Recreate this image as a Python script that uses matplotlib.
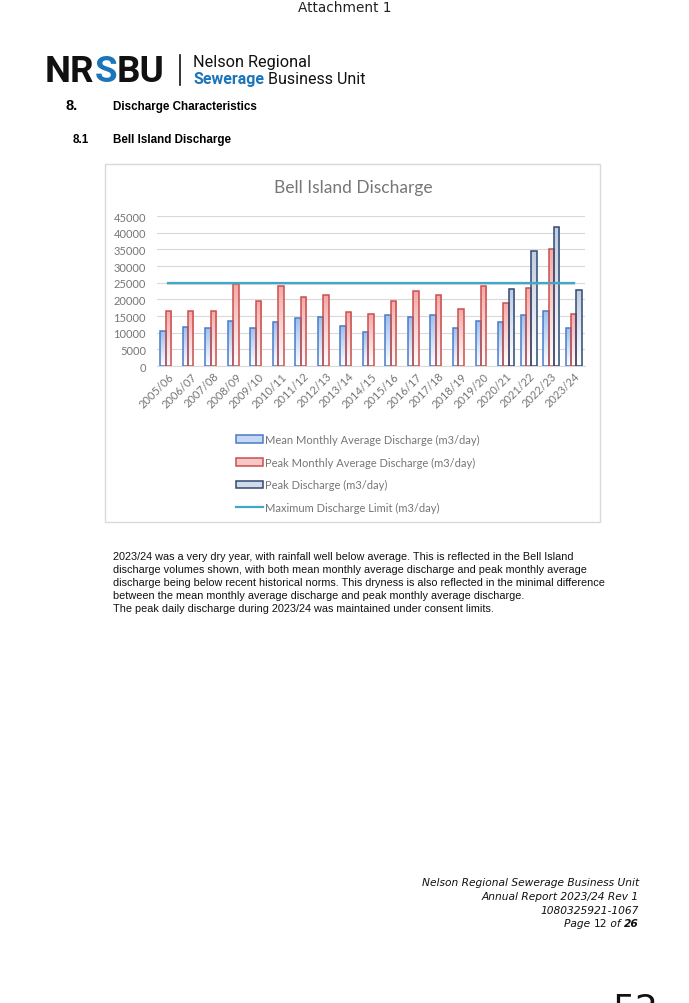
import numpy as np
import matplotlib
matplotlib.use("Agg")
import matplotlib.pyplot as plt
from matplotlib.patches import Rectangle
from matplotlib.colors import LinearSegmentedColormap

# data
years = ['2005/06', '2006/07', '2007/08', '2008/09', '2009/10', '2010/11', '2011/12',
         '2012/13', '2013/14', '2014/15', '2015/16', '2016/17', '2017/18', '2018/19',
         '2019/20', '2020/21', '2021/22', '2022/23', '2023/24']
mean_monthly = [10500, 11700, 11500, 13500, 11500, 13200, 14300, 14700, 11900, 10100,
                15300, 14700, 15400, 11300, 13500, 13200, 15300, 16500, 11500]
peak_monthly = [16400, 16400, 16600, 24600, 19600, 24100, 20600, 21300, 16200, 15600,
                19600, 22500, 21300, 17000, 23900, 19000, 23500, 35200, 15600]
peak_discharge = [np.nan] * 15 + [23100, 34600, 41700, 22900]
limit = [25000] * len(years)

W, H = 689, 1004
fig = plt.figure(figsize=(W / 100, H / 100), dpi=100)
r = fig.canvas.get_renderer()


def fx(x):
    return x / W


def fy(y):
    return 1 - y / H


def chain(x0, y, parts, **common):
    # left-to-right run of texts with different styles
    for txt, kw in parts:
        t = fig.text(fx(x0), fy(y), txt, ha='left', **common, **kw)
        x0 += t.get_window_extent(renderer=r).width


gray = '#767676'
chart_font = ['Lato', 'DejaVu Sans']

# page header
fig.text(fx(345), fy(8), 'Attachment 1', ha='center', va='center', fontsize=9.8,
         family='DejaVu Sans', color='#222222')

# logo
chain(45, 82, [('NR', dict(color='#111111')), ('S', dict(color='#1B75BB')),
               ('BU', dict(color='#111111'))],
      va='baseline', fontsize=26.5, family='Roboto', weight='bold')
fig.lines.append(plt.Line2D([fx(180), fx(180)], [fy(56), fy(86)], color='#111111',
                            lw=1.2, transform=fig.transFigure))
fig.text(fx(193), fy(67), 'Nelson Regional', ha='left', va='baseline', fontsize=11.7,
         family='Roboto', color='#111111')
chain(193, 84, [('Sewerage', dict(weight='bold', color='#1B75BB')),
                (' Business Unit', dict(color='#111111'))],
      va='baseline', fontsize=11.5, family='Roboto')

# section headings
fig.text(fx(65), fy(106), '8.', ha='left', va='center', fontsize=10.5,
         family='Liberation Sans', weight='bold')
fig.text(fx(113), fy(107), 'Discharge Characteristics', ha='left', va='center',
         fontsize=8.4, family='Liberation Sans', weight='bold')
fig.text(fx(73), fy(140), '8.1', ha='left', va='center', fontsize=8.4,
         family='Liberation Sans', weight='bold')
fig.text(fx(113), fy(140), 'Bell Island Discharge', ha='left', va='center',
         fontsize=8.4, family='Liberation Sans', weight='bold')

# chart frame
fig.patches.append(Rectangle((fx(105), fy(523)), fx(600) - fx(105), fy(165) - fy(523),
                             transform=fig.transFigure, facecolor='white',
                             edgecolor='#D9D9D9', lw=1, zorder=-1))
fig.text(fx(353), fy(188), 'Bell Island Discharge', ha='center', va='center',
         fontsize=12.5, family=chart_font, color=gray)

ax = fig.add_axes([fx(157), fy(367), fx(585) - fx(157), fy(217) - fy(367)])
ax.set_facecolor('none')

x = np.arange(len(years))
bw = 0.24
series = [
    (mean_monthly, -bw, '#4A7BC8', '#9DC0EE', 'Mean Monthly Average Discharge (m3/day)'),
    (peak_monthly, 0, '#C9504D', '#F4A9A8', 'Peak Monthly Average Discharge (m3/day)'),
    (peak_discharge, bw, '#2E4A75', '#C2CDDE', 'Peak Discharge (m3/day)'),
]
handles = []
for vals, off, edge, fill, label in series:
    bars = ax.bar(x + off, vals, width=bw, color=fill, edgecolor=edge, lw=1.1,
                  label=label, zorder=3)
    cmap = LinearSegmentedColormap.from_list('g', ['#FFFFFF', fill])
    grad = np.linspace(0, 1, 64).reshape(-1, 1)
    for b in bars:
        h = b.get_height()
        if not np.isfinite(h):
            continue
        x0 = b.get_x()
        im = ax.imshow(grad, extent=[x0, x0 + b.get_width(), h, 0], aspect='auto',
                       cmap=cmap, zorder=3.5, interpolation='bilinear')
        im.set_clip_path(b)
        b.set_zorder(4)
    handles.append(bars)
# bars get a transparent face after the gradients are in place
for bars in handles:
    for b in bars:
        b.set_facecolor('none')

line, = ax.plot(x, limit, color='#3EA8C6', lw=1.6, zorder=5,
                label='Maximum Discharge Limit (m3/day)')
ax.plot(x, [v - 250 for v in limit], color='#9A9A9A', lw=1.6, alpha=0.35, zorder=4.8)
handles.append(line)

ax.set_xlim(-0.5, len(years) - 0.5)
ax.set_ylim(0, 45000)
ax.set_yticks(range(0, 45001, 5000))
ax.yaxis.grid(True, color='#D9D9D9', lw=0.8, zorder=0)
ax.set_axisbelow(True)
for s in ['top', 'right', 'left']:
    ax.spines[s].set_visible(False)
ax.spines['bottom'].set_color('#D9D9D9')
ax.tick_params(axis='both', length=0, labelsize=8, labelcolor=gray)
ax.tick_params(axis='y', pad=8)
ax.tick_params(axis='x', pad=3)
ax.set_xticks(x)
ax.set_xticklabels(years, rotation=45, ha='right', rotation_mode='anchor')
for t in ax.get_xticklabels() + ax.get_yticklabels():
    t.set_family(chart_font)

legend_fill = ['#C5D9F5', '#F8C8C8', '#D3DBE8']
leg = fig.legend(handles=handles, loc='upper left', bbox_to_anchor=(fx(226), fy(425)),
                 ncol=1, frameon=False, labelspacing=1.05,
                 handlelength=2.4, handleheight=0.65, handletextpad=0.25,
                 prop={'family': chart_font, 'size': 8})
for t in leg.get_texts():
    t.set_color(gray)
for p, c in zip(leg.get_patches(), legend_fill):
    p.set_facecolor(c)

# body text
body = [
    '2023/24 was a very dry year, with rainfall well below average. This is reflected in the Bell Island',
    'discharge volumes shown, with both mean monthly average discharge and peak monthly average',
    'discharge being below recent historical norms. This dryness is also reflected in the minimal difference',
    'between the mean monthly average discharge and peak monthly average discharge.',
    'The peak daily discharge during 2023/24 was maintained under consent limits.',
]
for i, line_txt in enumerate(body):
    fig.text(fx(113), fy(557 + i * 13), line_txt, ha='left', va='center', fontsize=7.85,
             family='Liberation Sans', color='#111111')

# footer
foot = ['Nelson Regional Sewerage Business Unit', 'Annual Report 2023/24 Rev 1',
        '1080325921-1067']
for i, t in enumerate(foot):
    fig.text(fx(639), fy(883 + i * 14), t, ha='right', va='center', fontsize=7.7,
             family='DejaVu Sans', style='italic', color='#111111')

right = 639
for txt, kw in [('26', dict(style='italic', weight='bold')), (' of ', dict(style='italic')),
                ('12', dict()), ('Page ', dict(style='italic'))]:
    t = fig.text(fx(right), fy(924), txt, ha='right', va='center', fontsize=7.7,
                 family='DejaVu Sans', color='#111111', **kw)
    right -= t.get_window_extent(renderer=r).width

fig.text(fx(658), fy(993), '52', ha='right', va='top', fontsize=26,
         family='DejaVu Sans', color='#111111')

fig.savefig('out.png', dpi=100)
